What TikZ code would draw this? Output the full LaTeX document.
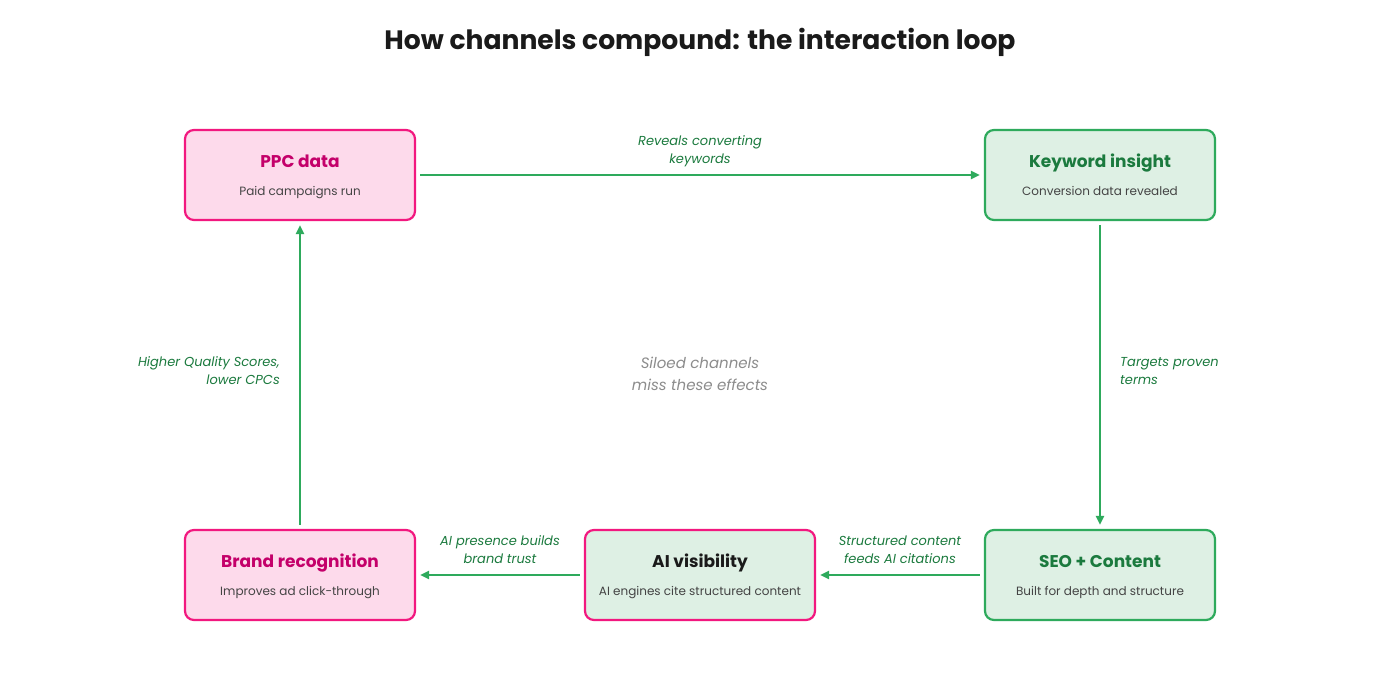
\documentclass[tikz,border=0pt]{standalone}
\usepackage{fontspec}
\setmainfont{Poppins}
\usetikzlibrary{arrows.meta}
\definecolor{pinkb}{HTML}{F2187F}
\definecolor{pinkf}{HTML}{FDDAEB}
\definecolor{pinkt}{HTML}{C4006A}
\definecolor{greenb}{HTML}{2EAA5C}
\definecolor{greenf}{HTML}{DEF0E4}
\definecolor{greent}{HTML}{1B7A3E}
\definecolor{subt}{HTML}{444444}
\definecolor{ttl}{HTML}{1A1A1A}
\tikzset{
  box/.style={draw, line width=2.2pt, rounded corners=9pt, minimum width=230pt, minimum height=90pt, inner sep=0pt},
  pinkbox/.style={box, draw=pinkb, fill=pinkf},
  greenbox/.style={box, draw=greenb, fill=greenf},
  mixbox/.style={box, draw=pinkb, fill=greenf},
  btitle/.style={font=\fontsize{17}{20}\selectfont\bfseries, anchor=base, inner sep=0pt},
  bsub/.style={font=\fontsize{12}{14}\selectfont, text=subt, anchor=base, inner sep=0pt},
  conn/.style={draw=greenb, line width=2pt, -{Triangle[length=9pt,width=8pt]}, shorten >=4pt, shorten <=4pt},
  elabel/.style={font=\fontsize{13}{18}\selectfont\itshape, text=greent, align=center, inner sep=0pt},
}
\begin{document}
\begin{tikzpicture}[x=1pt,y=-1pt]
\useasboundingbox (0,0) rectangle (1400,700);
\fill[white] (0,0) rectangle (1400,700);
\node[font=\fontsize{26.6}{30}\selectfont\bfseries, text=ttl, inner sep=0pt, anchor=base] (title) at (700,50) {How channels compound: the interaction loop};

\node[pinkbox] (ppc) at (300,175) {};
\node[btitle, text=pinkt] (ppct) at (300,168) {PPC data};
\node[bsub] (ppcs) at (300,195.5) {Paid campaigns run};

\node[greenbox] (kw) at (1100,175) {};
\node[btitle, text=greent] (kwt) at (1100,168) {Keyword insight};
\node[bsub] (kws) at (1100,195.5) {Conversion data revealed};

\node[greenbox] (seo) at (1100,575) {};
\node[btitle, text=greent] (seot) at (1100,567) {SEO + Content};
\node[bsub] (seos) at (1100,595) {Built for depth and structure};

\node[mixbox] (ai) at (700,575) {};
\node[btitle, text=ttl] (ait) at (700,567) {AI visibility};
\node[bsub] (ais) at (700,595) {AI engines cite structured content};

\node[pinkbox] (brand) at (300,575) {};
\node[btitle, text=pinkt] (brandt) at (300,567) {Brand recognition};
\node[bsub] (brands) at (300,595) {Improves ad click-through};

\draw[conn] (ppc) -- (kw);
\draw[conn] (kw) -- (seo);
\draw[conn] (seo) -- (ai);
\draw[conn] (ai) -- (brand);
\draw[conn] (brand) -- (ppc);

\node[elabel] (l1) at (700,151) {Reveals converting\\keywords};
\node[elabel, align=left, anchor=west] (l2) at (1120,371) {Targets proven\\terms};
\node[elabel] (l3) at (900,550) {Structured content\\feeds AI citations};
\node[elabel] (l4) at (500,550) {AI presence builds\\brand trust};
\node[elabel, align=right, anchor=east] (l5) at (280,371) {Higher Quality Scores,\\lower CPCs};

\node[font=\fontsize{15}{22}\selectfont\itshape, text=gray!90, align=center, inner sep=0pt] (note) at (700,374) {Siloed channels\\miss these effects};
\end{tikzpicture}
\end{document}
